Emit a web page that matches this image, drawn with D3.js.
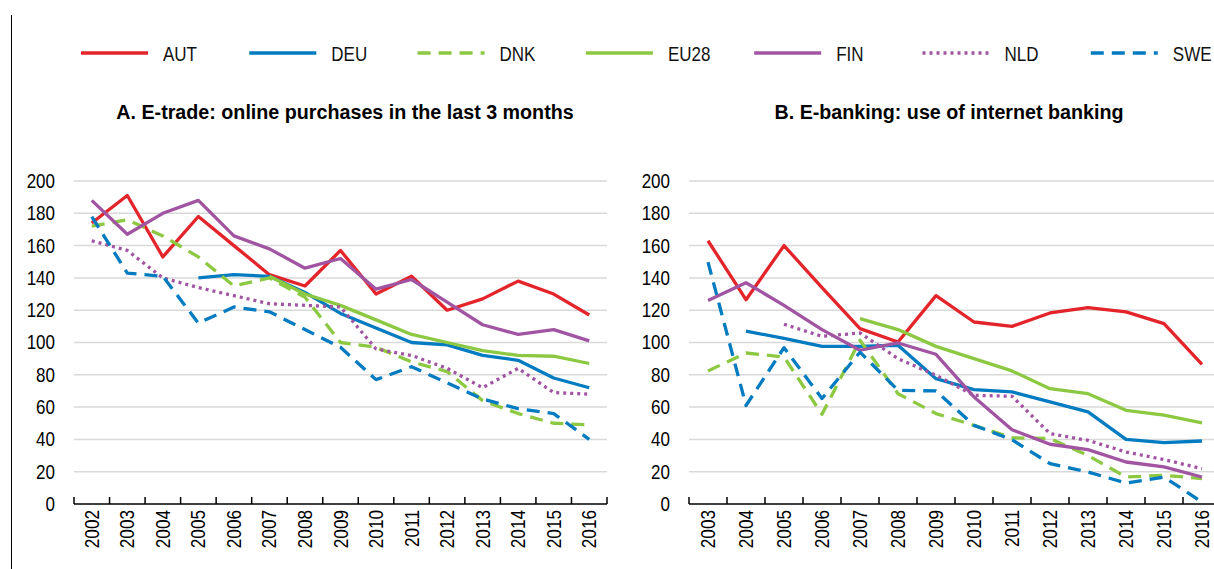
<!DOCTYPE html>
<html>
<head>
<meta charset="utf-8">
<script src="https://cdn.jsdelivr.net/npm/d3@7"></script>
<style>
  body { margin: 0; background: #fff; }
  svg { display: block; font-family: "Liberation Sans Narrow", "Arial Narrow", "Liberation Sans", Arial, sans-serif; }
</style>
</head>
<body>
<div id="chart"></div>
<script>
// Data
var countries = ["AUT", "DEU", "DNK", "EU28", "FIN", "NLD", "SWE"];
var yearsA = ["2002","2003","2004","2005","2006","2007","2008","2009","2010","2011","2012","2013","2014","2015","2016"];
var yearsB = ["2003","2004","2005","2006","2007","2008","2009","2010","2011","2012","2013","2014","2015","2016"];
var yTicks = [0, 20, 40, 60, 80, 100, 120, 140, 160, 180, 200];
var titleA = "A. E-trade: online purchases in the last 3 months";
var titleB = "B. E-banking: use of internet banking";

// panel A (2002-2016)
var etradeAUT  = [174, 191, 153, 178, 160, 142, 135, 157, 130, 141, 120, 127, 138, 130, 117];
var etradeDEU  = [null, null, null, 140, 142, 141, 131, 118, 109, 100, 98.5, 92, 89, 78, 72];
var etradeDNK  = [172, 176, 166, 153, 135, 140, 128, 100, 97, 88, 82, 64, 56, 50, 49];
var etradeEU28 = [null, null, null, null, null, 141, 130, 123, 114, 105, 100, 95, 92, 91.5, 87];
var etradeFIN  = [188, 167, 180, 188, 166, 158, 146, 152, 133, 139, 125, 111, 105, 108, 101];
var etradeNLD  = [163, 157, 140, 134, 129, 124, 123, 122, 96, 92, 84, 72, 84, 69, 68];
var etradeSWE  = [178, 143, 141, 112, 122, 119, 108, 97, 77, 85, 75, 65, 59, 56, 40];

// panel B (2003-2016)
var ebankAUT  = [163, 126.5, 160, 134, 108.6, 100.3, 129, 112.7, 110, 118.3, 121.6, 119, 111.7, 86.5];
var ebankDEU  = [null, 107, 102.6, 97.6, 97.6, 98.3, 77.6, 70.8, 69.4, 63.2, 57, 40, 38, 39];
var ebankDNK  = [82.4, 93.5, 91, 55.5, 101.4, 68.3, 56, 48.7, 41, 40.5, 30, 16.7, 17.8, 15.7];
var ebankEU28 = [null, null, null, null, 114.8, 108, 97.6, 90, 82.4, 71.4, 68.3, 58, 55, 50.2];
var ebankFIN  = [126, 137, 123, 108, 95.2, 99.7, 92.7, 66.3, 46, 37, 33.7, 26, 23, 16.7];
var ebankNLD  = [null, null, 111.3, 103.8, 105.9, 90, 79.7, 67.3, 66.7, 43.6, 39.4, 32.2, 27.5, 21.9];
var ebankSWE  = [149.8, 61, 96.8, 65.3, 94, 70.4, 70, 48.7, 39.8, 25, 19.8, 13, 16.7, 1.2];

// Styles
var colors = {AUT: "#E3242B", DEU: "#037BC1", DNK: "#8CC841", EU28: "#8CC841", FIN: "#A154A1", NLD: "#A154A1", SWE: "#037BC1"};
var dashes = {AUT: null, DEU: null, DNK: "13,8", EU28: null, FIN: null, NLD: "3,4", SWE: "13,8"};

var width = 1214, height = 569;

// squeeze text horizontally (no narrow font installed)
function condense(sel, k) {
  sel.each(function() {
    var el = d3.select(this);
    var x = +el.attr("x") || 0;
    var t = el.attr("transform") || "";
    el.attr("x", x / k)
      .attr("transform", (t + " scale(" + k + ",1)").trim());
  });
}

var svg = d3.select("#chart")
  .append("svg")
    .attr("width", width)
    .attr("height", height);

// left frame line
svg.append("line")
  .attr("x1", 11.5).attr("x2", 11.5)
  .attr("y1", 15).attr("y2", height)
  .attr("stroke", "#000").attr("stroke-width", 1);

// Legend
var legend = svg.append("g");
countries.forEach(function(c, i) {
  var lx = 81 + i * 168.3;
  legend.append("line")
    .attr("x1", lx).attr("x2", lx + 67)
    .attr("y1", 53).attr("y2", 53)
    .attr("stroke", colors[c])
    .attr("stroke-width", 3.5)
    .attr("stroke-dasharray", dashes[c]);
  legend.append("text")
    .attr("x", lx + 82).attr("y", 61)
    .attr("font-size", 20)
    .attr("fill", "#111")
    .text(c)
    .call(condense, 0.85);
});

function drawPanel(opts) {
  var g = svg.append("g");

  var x = d3.scaleBand()
    .domain(opts.years)
    .range([opts.left, opts.right])
    .padding(0);

  var y = d3.scaleLinear()
    .domain([0, 200])
    .range([504, 181]);

  // title
  g.append("text")
    .attr("x", opts.titleX).attr("y", 119)
    .attr("text-anchor", "middle")
    .attr("font-size", 20)
    .attr("font-weight", "bold")
    .attr("fill", "#000")
    .text(opts.title)
    .call(condense, 0.985);

  // gridlines
  g.selectAll(".grid")
    .data(yTicks.filter(function(d) { return d > 0; }))
    .enter().append("line")
      .attr("x1", opts.left).attr("x2", opts.right)
      .attr("y1", function(d) { return y(d); })
      .attr("y2", function(d) { return y(d); })
      .attr("stroke", "#d9d9d9")
      .attr("stroke-width", 1.5);

  // y labels
  g.selectAll(".ylab")
    .data(yTicks)
    .enter().append("text")
      .attr("x", opts.left - 19)
      .attr("y", function(d) { return y(d); })
      .attr("dy", "0.35em")
      .attr("text-anchor", "end")
      .attr("font-size", 20)
      .attr("fill", "#000")
      .text(function(d) { return d; })
      .call(condense, 0.85);

  // lines
  var line = d3.line()
    .defined(function(d) { return d.v != null; })
    .x(function(d) { return x(d.year) + x.bandwidth() / 2; })
    .y(function(d) { return y(d.v); });

  countries.forEach(function(c) {
    var vals = opts.series[c];
    var pts = opts.years.map(function(yr, i) { return {year: yr, v: vals[i]}; });
    g.append("path")
      .datum(pts)
      .attr("d", line)
      .attr("fill", "none")
      .attr("stroke", colors[c])
      .attr("stroke-width", 3.3)
      .attr("stroke-linejoin", "round")
      .attr("stroke-dasharray", dashes[c]);
  });

  // x axis
  var y0 = y(0);
  g.append("line")
    .attr("x1", opts.left).attr("x2", opts.right)
    .attr("y1", y0).attr("y2", y0)
    .attr("stroke", "#000").attr("stroke-width", 1.5);

  var tickPos = opts.years.map(function(d) { return x(d); }).concat([opts.right]);
  g.selectAll(".xtick")
    .data(tickPos)
    .enter().append("line")
      .attr("x1", function(d) { return d; })
      .attr("x2", function(d) { return d; })
      .attr("y1", y0 - 7).attr("y2", y0)
      .attr("stroke", "#000").attr("stroke-width", 1.5);

  g.selectAll(".xlab")
    .data(opts.years)
    .enter().append("text")
      .attr("transform", function(d) {
        return "translate(" + (x(d) + x.bandwidth() / 2) + "," + (y0 + 6) + ") rotate(-90)";
      })
      .attr("dy", "0.35em")
      .attr("text-anchor", "end")
      .attr("font-size", 20)
      .attr("fill", "#000")
      .text(function(d) { return d; })
      .call(condense, 0.86);
}

drawPanel({
  years: yearsA, left: 74, right: 607, titleX: 345, title: titleA,
  series: {AUT: etradeAUT, DEU: etradeDEU, DNK: etradeDNK, EU28: etradeEU28, FIN: etradeFIN, NLD: etradeNLD, SWE: etradeSWE}
});

drawPanel({
  years: yearsB, left: 689, right: 1221, titleX: 949, title: titleB,
  series: {AUT: ebankAUT, DEU: ebankDEU, DNK: ebankDNK, EU28: ebankEU28, FIN: ebankFIN, NLD: ebankNLD, SWE: ebankSWE}
});
</script>
</body>
</html>
